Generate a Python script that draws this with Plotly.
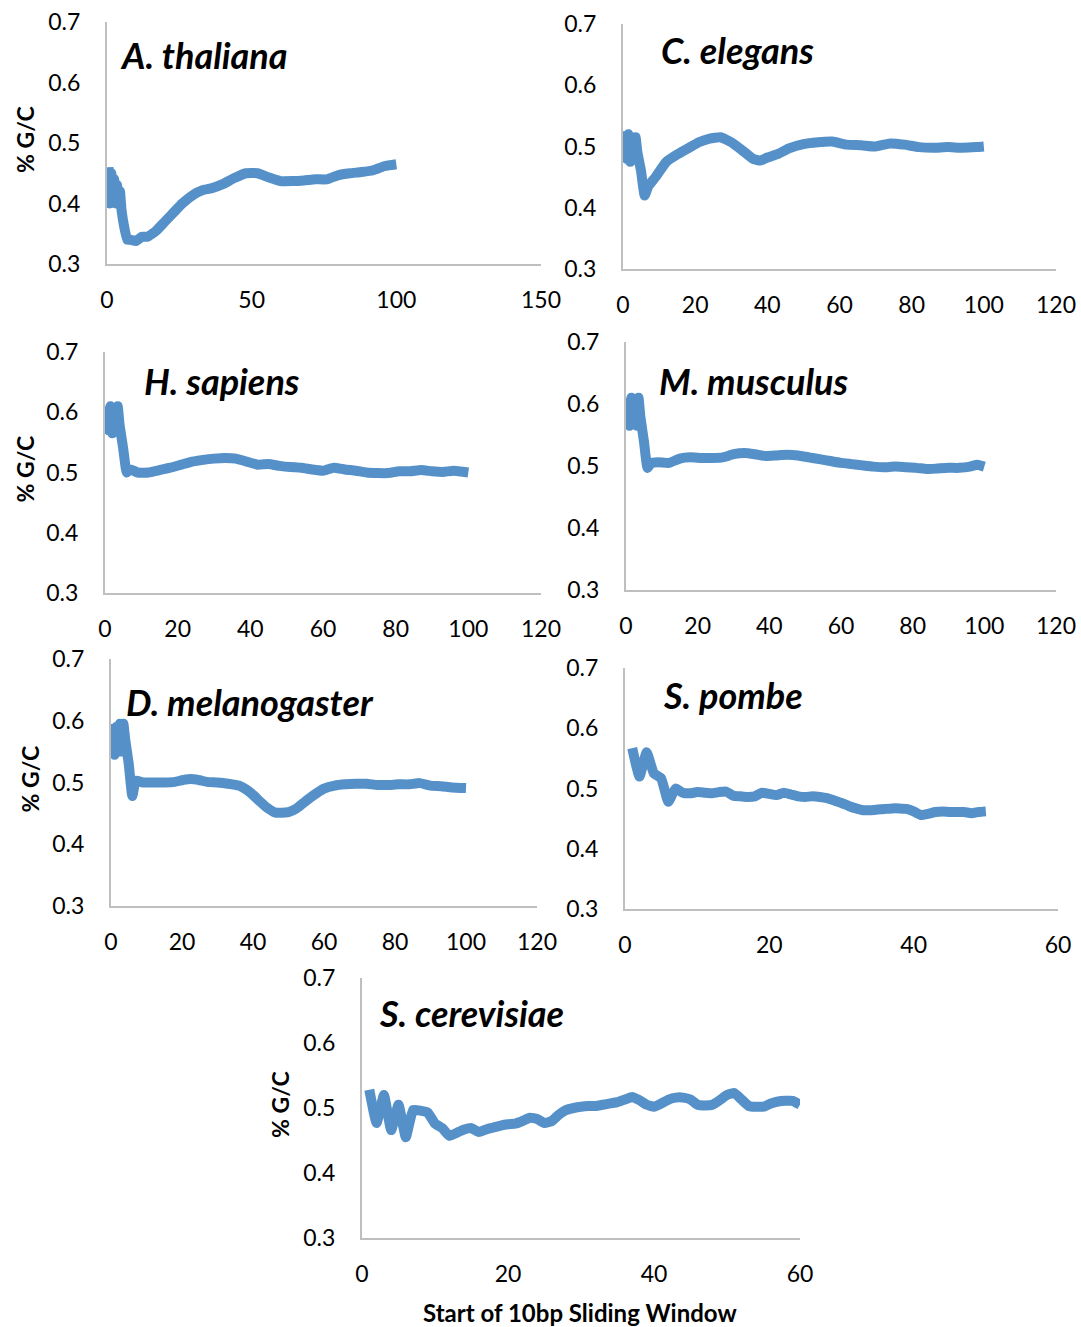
import plotly.graph_objects as go

W, H = 1081, 1327
LINE_COLOR = "#5591C8"
AXIS_COLOR = "#BFBFBF"
FONT = "Lato"

# ---------------- data ----------------
ath_x = [0.5, 1, 1.5, 2, 2.5, 3, 3.5, 4, 4.5, 5, 6, 7, 8, 10, 12, 14, 17, 20, 23, 26, 30, 33, 36, 40, 44, 48, 52, 56, 60, 64, 68, 72, 76, 80, 84, 88, 92, 96, 100]
ath_y = [0.46, 0.40, 0.45, 0.41, 0.44, 0.40, 0.43, 0.40, 0.42, 0.39, 0.36, 0.34, 0.34, 0.338, 0.345, 0.345, 0.355, 0.37, 0.385, 0.40, 0.415, 0.422, 0.425, 0.432, 0.442, 0.45, 0.45, 0.443, 0.437, 0.437, 0.438, 0.44, 0.44, 0.447, 0.45, 0.452, 0.455, 0.462, 0.465]

cel_x = [0.5, 1, 1.5, 2, 2.5, 3, 3.5, 4, 5, 6, 7, 9, 12, 15, 18, 21, 24, 27, 30, 33, 36, 38, 40, 43, 46, 50, 54, 58, 62, 66, 70, 74, 78, 82, 86, 90, 94, 98, 100]
cel_y = [0.525, 0.48, 0.52, 0.475, 0.515, 0.48, 0.515, 0.49, 0.46, 0.42, 0.435, 0.45, 0.475, 0.487, 0.497, 0.507, 0.513, 0.515, 0.507, 0.494, 0.48, 0.477, 0.482, 0.488, 0.497, 0.504, 0.507, 0.508, 0.503, 0.502, 0.50, 0.505, 0.503, 0.499, 0.498, 0.499, 0.498, 0.499, 0.50]

hsa_x = [0.5, 1, 1.5, 2, 2.5, 3, 3.5, 4, 5, 6, 7, 9, 12, 15, 18, 21, 24, 27, 30, 33, 36, 39, 42, 45, 48, 51, 54, 57, 60, 63, 66, 69, 72, 75, 78, 81, 84, 87, 90, 93, 96, 100]
hsa_y = [0.61, 0.57, 0.61, 0.565, 0.605, 0.57, 0.61, 0.58, 0.54, 0.50, 0.505, 0.50, 0.50, 0.504, 0.508, 0.513, 0.518, 0.521, 0.523, 0.524, 0.523, 0.518, 0.513, 0.514, 0.511, 0.509, 0.508, 0.505, 0.503, 0.508, 0.505, 0.503, 0.500, 0.499, 0.499, 0.502, 0.502, 0.504, 0.502, 0.501, 0.503, 0.50]

mmu_x = [0.5, 1, 1.5, 2, 2.5, 3, 3.5, 4, 5, 6, 7, 9, 12, 15, 18, 21, 24, 27, 30, 33, 36, 39, 42, 45, 48, 51, 54, 57, 60, 63, 66, 69, 72, 75, 78, 81, 84, 87, 90, 93, 96, 98, 100]
mmu_y = [0.61, 0.565, 0.61, 0.57, 0.605, 0.565, 0.61, 0.58, 0.54, 0.497, 0.505, 0.506, 0.505, 0.512, 0.514, 0.513, 0.513, 0.514, 0.519, 0.521, 0.519, 0.516, 0.517, 0.518, 0.517, 0.514, 0.511, 0.508, 0.505, 0.503, 0.501, 0.499, 0.498, 0.499, 0.498, 0.497, 0.495, 0.496, 0.497, 0.497, 0.499, 0.502, 0.499]

dme_x = [0.5, 1, 1.5, 2, 2.5, 3, 3.5, 4, 5, 6, 7, 9, 12, 15, 18, 21, 24, 27, 30, 33, 36, 38, 40, 42, 44, 46, 48, 50, 52, 54, 56, 58, 60, 63, 66, 69, 72, 75, 78, 81, 84, 87, 90, 93, 96, 100]
dme_y = [0.595, 0.545, 0.59, 0.55, 0.595, 0.55, 0.595, 0.57, 0.53, 0.478, 0.503, 0.50, 0.50, 0.50, 0.501, 0.505, 0.505, 0.501, 0.50, 0.498, 0.495, 0.489, 0.48, 0.469, 0.459, 0.452, 0.451, 0.452, 0.457, 0.466, 0.475, 0.483, 0.49, 0.495, 0.497, 0.498, 0.498, 0.496, 0.496, 0.497, 0.497, 0.499, 0.495, 0.494, 0.492, 0.491]

spo_x = list(range(1, 51))
spo_y = [0.567, 0.52, 0.56, 0.525, 0.517, 0.478, 0.50, 0.493, 0.492, 0.494, 0.493, 0.492, 0.494, 0.495, 0.488, 0.487, 0.486, 0.487, 0.493, 0.491, 0.489, 0.493, 0.49, 0.487, 0.486, 0.487, 0.486, 0.484, 0.48, 0.476, 0.471, 0.467, 0.464, 0.464, 0.465, 0.466, 0.467, 0.467, 0.466, 0.462, 0.456, 0.458, 0.461, 0.462, 0.461, 0.461, 0.461, 0.459, 0.461, 0.462]

sce_x = list(range(1, 61))
sce_y = [0.528, 0.477, 0.52, 0.466, 0.505, 0.455, 0.497, 0.496, 0.493, 0.476, 0.469, 0.457, 0.462, 0.467, 0.469, 0.463, 0.467, 0.47, 0.473, 0.475, 0.476, 0.48, 0.485, 0.483, 0.477, 0.48, 0.49, 0.497, 0.50, 0.502, 0.503, 0.503, 0.505, 0.507, 0.509, 0.513, 0.517, 0.512, 0.505, 0.502, 0.507, 0.513, 0.516, 0.516, 0.513, 0.505, 0.504, 0.505, 0.512, 0.52, 0.523, 0.513, 0.503, 0.502, 0.502, 0.507, 0.51, 0.511, 0.511, 0.505]

species = ["A. thaliana", "C. elegans", "H. sapiens", "M. musculus", "D. melanogaster", "S. pombe", "S. cerevisiae"]
y_ticks = [0.3, 0.4, 0.5, 0.6, 0.7]
y_title = "% G/C"
x_title = "Start of 10bp Sliding Window"

series = [(ath_x, ath_y), (cel_x, cel_y), (hsa_x, hsa_y), (mmu_x, mmu_y),
          (dme_x, dme_y), (spo_x, spo_y), (sce_x, sce_y)]

# ---------------- layout (pixel geometry) ----------------
# (x0, x1, xmax, xdtick, y_top(0.7), y_bottom(0.3), title_left, title_y, show_ytitle, ytitle_x)
panels = [
    (107, 541, 150, 50, 22, 264, 118, 55, True, 25),
    (623, 1056, 120, 20, 24, 269, 659, 50, False, 0),
    (105, 541, 120, 20, 352, 593, 142, 381, True, 25),
    (626, 1056, 120, 20, 342, 590, 657, 381, False, 0),
    (111, 537, 120, 20, 659, 906, 124, 702, True, 29),
    (625, 1058, 60, 20, 668, 909, 661, 695, False, 0),
    (362, 800, 60, 20, 978, 1238, 377, 1013, True, 280),
]

fig = go.Figure()
annotations = []
for i, ((xs, ys), p, name) in enumerate(zip(series, panels, species)):
    x0, x1, xmax, dt, yt, yb, tl, ty, show_yt, ytx = p
    n = "" if i == 0 else str(i + 1)
    fig.add_trace(go.Scatter(x=xs, y=ys, mode="lines",
                             line=dict(color=LINE_COLOR, width=10, shape="spline", smoothing=0.4),
                             xaxis="x" + n, yaxis="y" + n, showlegend=False,
                             cliponaxis=False))
    fig.update_layout(**{
        "xaxis" + n: dict(domain=[x0 / W, x1 / W], range=[0, xmax], dtick=dt, tick0=0,
                          anchor="y" + n, showline=True, linecolor=AXIS_COLOR, linewidth=2,
                          showgrid=False, zeroline=False, ticks="", automargin=False,
                          tickfont=dict(size=23, color="#000000", family=FONT),
                          ticklabelstandoff=14),
        "yaxis" + n: dict(domain=[1 - yb / H, 1 - yt / H], range=[0.3, 0.7],
                          tickvals=y_ticks, ticktext=[f"{v:.1f}" for v in y_ticks],
                          anchor="x" + n, showline=True, linecolor=AXIS_COLOR, linewidth=2,
                          showgrid=False, zeroline=False, ticks="", automargin=False,
                          tickfont=dict(size=23, color="#000000", family=FONT),
                          ticklabelstandoff=20),
    })
    annotations.append(dict(text="<b><i>" + name + "</i></b>", xref="paper", yref="paper",
                            x=tl / W, y=1 - ty / H, xanchor="left", yanchor="middle",
                            showarrow=False, font=dict(size=36, color="#000000", family=FONT)))
    if show_yt:
        annotations.append(dict(text="<b>" + y_title + "</b>", xref="paper", yref="paper",
                                x=ytx / W, y=1 - ((yt + yb) / 2 - 3) / H, textangle=-90,
                                xanchor="center", yanchor="middle", showarrow=False,
                                font=dict(size=23, color="#000000", family=FONT)))

annotations.append(dict(text="<b>" + x_title + "</b>", xref="paper", yref="paper",
                        x=580 / W, y=1 - 1312 / H, xanchor="center", yanchor="middle",
                        showarrow=False, font=dict(size=24, color="#000000", family=FONT)))

fig.update_layout(width=W, height=H, margin=dict(l=0, r=0, t=0, b=0, autoexpand=False),
                  paper_bgcolor="white", plot_bgcolor="white",
                  font=dict(family=FONT, color="#000000"),
                  annotations=annotations)

fig.write_html("out.html")
